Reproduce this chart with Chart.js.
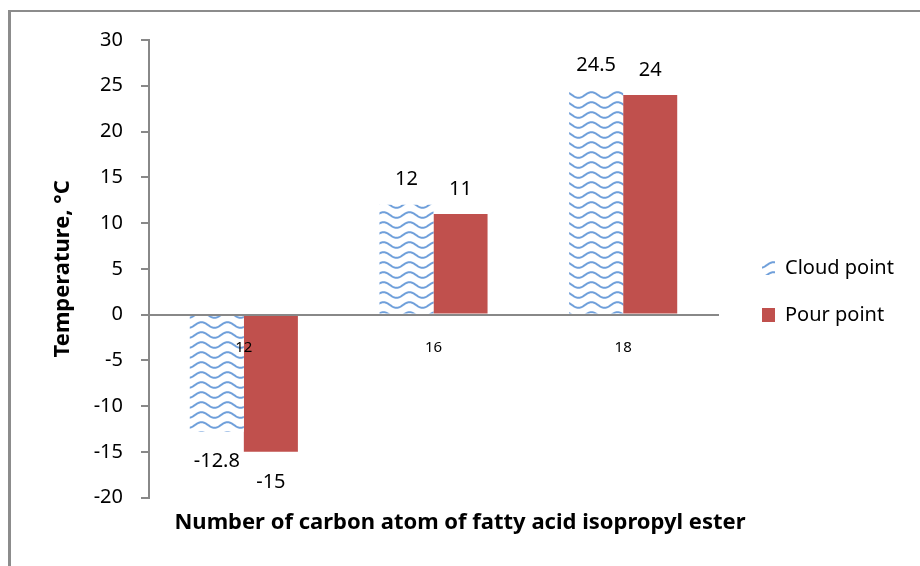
<!DOCTYPE html>
<html lang="en">
<head>
    <meta charset="UTF-8">
    <title>Cloud point and pour point</title>
    <script src="https://cdn.jsdelivr.net/npm/chart.js"></script>
    <style>
        body { margin: 0; background: #fff; }
        .container { position: relative; width: 920px; height: 566px; }
        .frame {
            position: absolute; left: 8px; top: 10px; right: 0; bottom: 0;
            border-left: 3px solid #8c8c8c; border-top: 2px solid #8c8c8c;
            pointer-events: none;
        }
    </style>
</head>
<body>
    <div class="container">
        <canvas id="pointChart" width="920" height="566"></canvas>
        <div class="frame"></div>
    </div>
    <script>
        const carbonNumbers = ['12', '16', '18'];
        const cloudPoint = [-12.8, 12, 24.5];
        const pourPoint = [-15, 11, 24];
        const yTicks = [-20, -15, -10, -5, 0, 5, 10, 15, 20, 25, 30];

        const FONT = 'Noto Sans';

        // wavy blue fill like the Excel pattern
        function wavePattern() {
            const c = document.createElement('canvas');
            c.width = 26; c.height = 10;
            const g = c.getContext('2d');
            g.fillStyle = '#fff';
            g.fillRect(0, 0, 26, 10);
            g.strokeStyle = '#6f9fda';
            g.lineWidth = 2;
            g.beginPath();
            for (let x = -1; x <= 27; x += 0.5) {
                const y = 5 + 2.8 * Math.sin(x / 26 * Math.PI * 2);
                if (x === -1) g.moveTo(x, y); else g.lineTo(x, y);
            }
            g.stroke();
            return g.createPattern(c, 'repeat');
        }

        const valueLabels = {
            id: 'valueLabels',
            afterDatasetsDraw(chart) {
                const ctx = chart.ctx;
                ctx.save();
                ctx.font = '20px "' + FONT + '"';
                ctx.fillStyle = '#000';
                ctx.textAlign = 'center';
                ctx.textBaseline = 'middle';
                chart.data.datasets.forEach((ds, i) => {
                    chart.getDatasetMeta(i).data.forEach((bar, j) => {
                        const v = ds.data[j];
                        const y = v >= 0 ? bar.y - 25 : bar.y + 30;
                        ctx.fillText(String(v), bar.x, y);
                    });
                });
                ctx.restore();
            }
        };

        // give the legend a fixed width so the plot ends where the reference does
        const legendWidth = {
            id: 'legendWidth',
            beforeLayout(chart) {
                const lg = chart.legend;
                if (lg && !lg._fixedFit) {
                    const fit = lg.fit;
                    lg.fit = function () { fit.call(this); this.width = 185; };
                    lg._fixedFit = true;
                }
            }
        };

        const ctx = document.getElementById('pointChart').getContext('2d');
        new Chart(ctx, {
            type: 'bar',
            data: {
                labels: carbonNumbers,
                datasets: [
                    { label: 'Cloud point', data: cloudPoint, backgroundColor: wavePattern(), yAxisID: 'y' },
                    { label: 'Pour point', data: pourPoint, backgroundColor: '#c0504d', yAxisID: 'y' }
                ]
            },
            options: {
                responsive: false,
                animation: false,
                categoryPercentage: 0.57,
                barPercentage: 1,
                layout: { padding: { top: 40, right: 0, left: 0, bottom: 0 } },
                scales: {
                    x: {
                        position: { y: 0 },
                        grid: { display: false, drawTicks: false },
                        border: { color: '#888', width: 2, z: 1 },
                        ticks: { color: '#000', font: { family: FONT, size: 15 }, padding: 24, z: 1 }
                    },
                    y: {
                        min: -20, max: 30,
                        afterFit(s) { s.width = 149; },
                        afterBuildTicks(s) { s.ticks = yTicks.map(v => ({ value: v })); },
                        grid: { drawOnChartArea: false, tickLength: 8, color: '#888', lineWidth: 2 },
                        border: { color: '#888', width: 2 },
                        ticks: { color: '#000', font: { family: FONT, size: 20 }, padding: 18 },
                        title: {
                            display: true, text: 'Temperature, °C', color: '#000',
                            font: { family: FONT, size: 22, weight: 'bold' },
                            padding: { top: 50, bottom: 0 }
                        }
                    },
                    pad: {
                        type: 'linear', position: 'right', display: true,
                        afterFit(s) { s.width = 17; },
                        grid: { display: false }, border: { display: false },
                        ticks: { display: false }
                    }
                },
                plugins: {
                    tooltip: { enabled: false },
                    legend: {
                        position: 'right',
                        align: 'start',
                        title: { display: true, text: ' ', font: { size: 10 }, padding: { top: 179, bottom: 0 } },
                        labels: {
                            color: '#000', boxWidth: 13, boxHeight: 14, padding: 27,
                            font: { family: FONT, size: 20 }
                        }
                    },
                    title: {
                        display: true, position: 'bottom',
                        text: 'Number of carbon atom of fatty acid isopropyl ester',
                        color: '#000',
                        font: { family: FONT, size: 22, weight: 'bold' },
                        padding: { top: 12, bottom: 30 }
                    }
                }
            },
            plugins: [valueLabels, legendWidth]
        });
    </script>
</body>
</html>
